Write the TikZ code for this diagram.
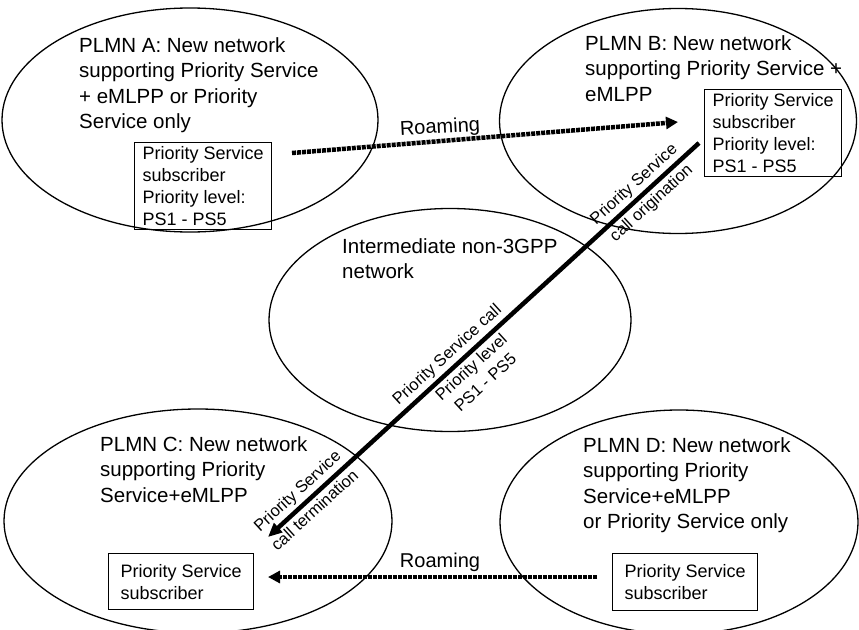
\documentclass[tikz,border=0pt]{standalone}
\usepackage{fontspec}
\setmainfont{Liberation Sans}
\usetikzlibrary{shapes.geometric,arrows.meta}

\begin{document}
\begin{tikzpicture}[x=1pt,y=-1pt,
		net/.style={ellipse,draw=black,line width=1.3pt,inner sep=0pt},
		lbl/.style={anchor=north west,inner sep=0pt,align=left,font=\fontsize{20.5}{25.5}\selectfont},
		sub/.style={draw=black,line width=1.2pt,anchor=north west,align=left,inner xsep=8pt,inner ysep=4pt,font=\fontsize{18}{22}\selectfont},
		roam/.style={line width=4.5pt,dash pattern=on 4pt off 1pt,-{Triangle[length=12pt,width=12pt]}},
		calltxt/.style={sloped,inner sep=3pt,font=\fontsize{16.5}{21}\selectfont}]
		\useasboundingbox (0,0) rectangle (859,629);
		% networks
		\node[net,minimum width=376pt,minimum height=224pt] (plmnA) at (190,120) {};
		\node[net,minimum width=357pt,minimum height=225pt] (plmnB) at (678,121) {};
		\node[net,minimum width=362pt,minimum height=223pt] (inter) at (450,320) {};
		\node[net,minimum width=388pt,minimum height=224pt] (plmnC) at (198,521) {};
		\node[net,minimum width=358pt,minimum height=224pt] (plmnD) at (679,522) {};
		\node[lbl] (txtA) at (79,37) {PLMN A: New network\\supporting Priority Service\\+ eMLPP or Priority\\Service only};
		\node[lbl] (txtB) at (585,35) {PLMN B: New network\\supporting Priority Service +\\eMLPP};
		\node[lbl] (txtI) at (342,238) {Intermediate non-3GPP\\network};
		\node[lbl] (txtC) at (100,436) {PLMN C: New network\\supporting Priority\\Service+eMLPP};
		\node[lbl] (txtD) at (583,437) {PLMN D: New network\\supporting Priority\\Service+eMLPP\\or Priority Service only};
		% subscribers
		\node[sub] (subA) at (134,142) {Priority Service\\subscriber\\Priority level:\\PS1 - PS5};
		\node[sub] (subB) at (704,89) {Priority Service\\subscriber\\Priority level:\\PS1 - PS5};
		\node[sub,minimum width=145pt,minimum height=56pt] (subC) at (108,553) {Priority Service\\subscriber};
		\node[sub,minimum width=145pt,minimum height=57pt] (subD) at (612,553) {Priority Service\\subscriber};
		% roaming
		\coordinate (roamA) at (292,153);
		\coordinate (roamB) at (678,122);
		\coordinate (roamD) at (597,577);
		\coordinate (roamC) at (268,577);
		\draw[roam] (roamA) -- (roamB);
		\draw[roam] (roamD) -- (roamC);
		\node[inner sep=0pt,rotate=3,font=\fontsize{20}{24}\selectfont] (roamtxtA) at (440,128) {Roaming};
		\node[inner sep=0pt,font=\fontsize{20}{24}\selectfont] (roamtxtC) at (440,562) {Roaming};
		% priority call
		\coordinate (callB) at (699,143);
		\coordinate (callC) at (268,537);
		\draw[line width=4.5pt,{Triangle[length=14pt,width=12pt]}-] (callC) -- (callB)
			node[calltxt,pos=0.09,above] {Priority Service}
			node[calltxt,pos=0.09,below] {call termination}
			node[calltxt,pos=0.437,above] {Priority Service call}
			node[calltxt,pos=0.453,below,align=center] {Priority level\\PS1 - PS5}
			node[calltxt,pos=0.87,above] {Priority Service}
			node[calltxt,pos=0.87,below] {call origination};
	\end{tikzpicture}
\end{document}
